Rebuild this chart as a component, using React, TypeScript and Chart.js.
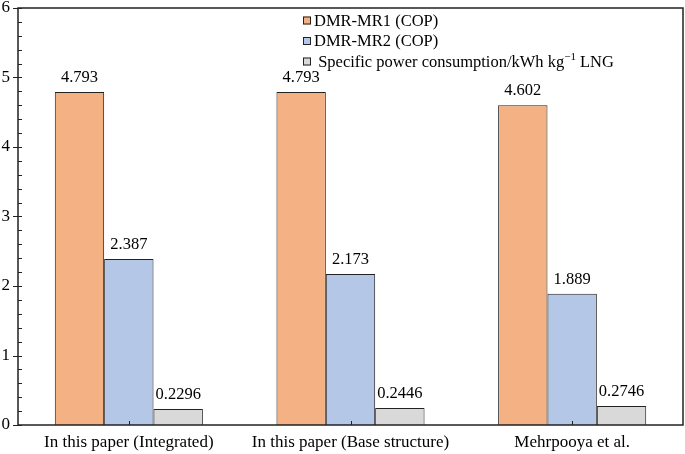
import React, { useEffect, useRef } from "react";
import { Chart, registerables } from "chart.js";

Chart.register(...registerables);

const categories = [
  "In this paper (Integrated)",
  "In this paper (Base structure)",
  "Mehrpooya et al.",
];
const seriesNames = [
  "DMR-MR1 (COP)",
  "DMR-MR2 (COP)",
  "Specific power consumption/kWh kg\u22121 LNG",
];
const mr1Cop = [4.793, 4.793, 4.602];
const mr2Cop = [2.387, 2.173, 1.889];
const specificPower = [0.2296, 0.2446, 0.2746];
const yTicks = [0, 1, 2, 3, 4, 5, 6];

const colors = ["#F4B183", "#B4C7E7", "#D9D9D9"];
const FONT = "'Liberation Serif', 'Times New Roman', serif";

const framePlugin = {
  id: "frame",
  afterDraw(chart: any) {
    const { ctx, chartArea } = chart;
    const y = chart.scales.y;
    const x = chart.scales.x;
    ctx.save();
    ctx.strokeStyle = "#222";
    ctx.lineWidth = 1.5;
    ctx.strokeRect(chartArea.left, chartArea.top, chartArea.right - chartArea.left, chartArea.bottom - chartArea.top);
    ctx.lineWidth = 1;
    for (let v = 0; v <= 6.0001; v += 0.2) {
      const py = Math.round(y.getPixelForValue(v)) + 0.5;
      const major = Math.abs(v - Math.round(v)) < 1e-6;
      ctx.beginPath();
      ctx.moveTo(chartArea.left - (major ? 5 : 0), py);
      ctx.lineTo(chartArea.left + 4, py);
      ctx.stroke();
    }
    categories.forEach((_, i) => {
      const px = Math.round(x.getPixelForValue(i)) + 0.5;
      ctx.beginPath();
      ctx.moveTo(px, chartArea.bottom);
      ctx.lineTo(px, chartArea.bottom - 4);
      ctx.stroke();
    });
    ctx.restore();
  },
};

const valueLabelPlugin = {
  id: "valueLabels",
  afterDatasetsDraw(chart: any) {
    const { ctx } = chart;
    ctx.save();
    ctx.font = `16.5px ${FONT}`;
    ctx.fillStyle = "#000";
    ctx.textAlign = "center";
    ctx.textBaseline = "alphabetic";
    chart.data.datasets.forEach((ds: any, di: number) => {
      const meta = chart.getDatasetMeta(di);
      meta.data.forEach((bar: any, i: number) => {
        ctx.fillText(String(ds.data[i]), bar.x, bar.y - 10);
      });
    });
    ctx.restore();
  },
};

const legendPlugin = {
  id: "customLegend",
  afterDraw(chart: any) {
    const { ctx } = chart;
    ctx.save();
    const rowsY = [20.5, 41, 61.5];
    const boxX = 303;
    const box = 8;
    ctx.textBaseline = "middle";
    ctx.textAlign = "left";
    seriesNames.forEach((name, i) => {
      const cy = rowsY[i];
      ctx.fillStyle = colors[i];
      ctx.fillRect(boxX, cy - box / 2, box, box);
      ctx.strokeStyle = "#222";
      ctx.lineWidth = 1;
      ctx.strokeRect(boxX + 0.5, cy - box / 2 + 0.5, box - 1, box - 1);
      ctx.fillStyle = "#000";
      ctx.font = `16.5px ${FONT}`;
      if (i < 2) {
        ctx.fillText(name, boxX + 11, cy + 1);
      } else {
        const parts = name.split("\u22121");
        let tx = boxX + 11;
        const first = " " + parts[0];
        ctx.fillText(first, tx, cy + 1);
        tx += ctx.measureText(first).width;
        ctx.font = `11px ${FONT}`;
        ctx.fillText("\u22121", tx, cy - 4);
        tx += ctx.measureText("\u22121").width;
        ctx.font = `16.5px ${FONT}`;
        ctx.fillText(parts[1], tx, cy + 1);
      }
    });
    ctx.restore();
  },
};

export default function App() {
  const ref = useRef<HTMLCanvasElement | null>(null);
  useEffect(() => {
    if (!ref.current) return;
    const data = [mr1Cop, mr2Cop, specificPower];
    const chart = new Chart(ref.current, {
      type: "bar",
      data: {
        labels: categories,
        datasets: seriesNames.map((n, i) => ({
          label: n,
          data: data[i],
          backgroundColor: colors[i],
          borderColor: "#222",
          borderWidth: 1,
          categoryPercentage: 0.668,
          barPercentage: 1,
        })),
      },
      options: {
        animation: false,
        responsive: true,
        maintainAspectRatio: false,
        layout: { padding: { top: 8, right: 2, left: 0, bottom: 0 } },
        plugins: {
          legend: { display: false },
          tooltip: { enabled: false },
        },
        scales: {
          x: {
            grid: { display: false, drawTicks: false },
            border: { display: false },
            ticks: { color: "#000", font: { family: FONT, size: 17 }, padding: 7, maxRotation: 0 },
            afterFit(scale: any) {
              scale.height = 29;
              scale.paddingLeft = 0;
              scale.paddingRight = 0;
              scale.paddingTop = 0;
              scale.paddingBottom = 0;
            },
          },
          y: {
            min: 0,
            max: 6,
            afterBuildTicks(scale: any) {
              scale.ticks = yTicks.map((v) => ({ value: v }));
            },
            grid: { display: false, drawTicks: false },
            border: { display: false },
            ticks: { color: "#000", font: { family: FONT, size: 17 }, padding: 8 },
            afterFit(scale: any) {
              scale.width = 18;
              scale.paddingTop = 0;
              scale.paddingBottom = 0;
              scale.paddingLeft = 0;
              scale.paddingRight = 0;
            },
          },
        },
      },
      plugins: [framePlugin, valueLabelPlugin, legendPlugin],
    });
    return () => chart.destroy();
  }, []);
  return (
    <div style={{ position: "fixed", left: 0, top: 0, width: 685, height: 454, background: "#fff" }}>
      <canvas ref={ref} />
    </div>
  );
}
